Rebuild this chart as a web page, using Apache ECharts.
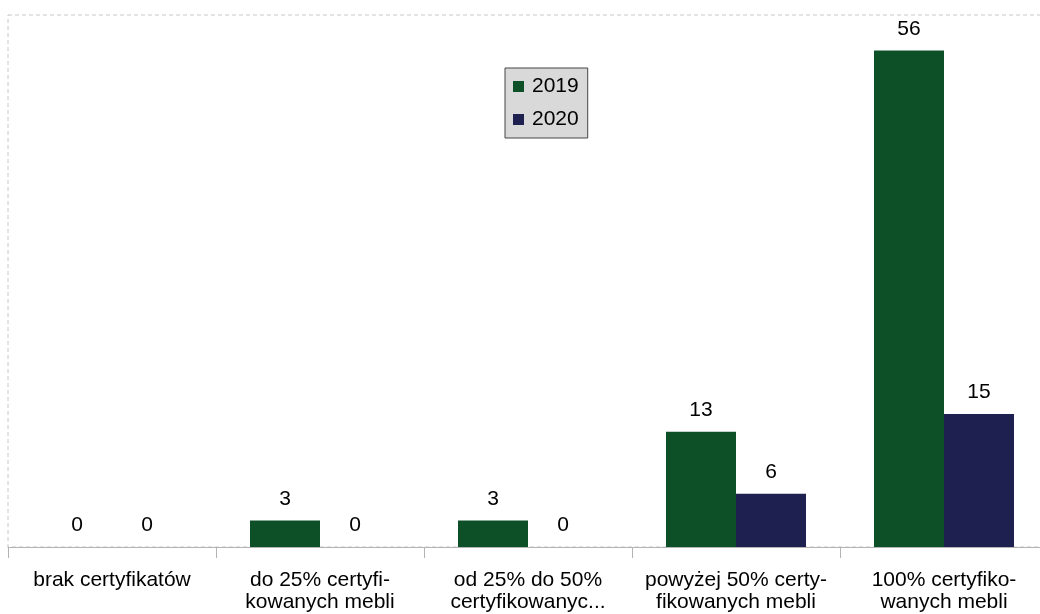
<!DOCTYPE html>
<html>
<head>
<meta charset="utf-8">
<script src="https://cdn.jsdelivr.net/npm/echarts@6/dist/echarts.min.js"></script>
<style>
    html, body { margin: 0; padding: 0; background: #fff; }
    #chart { width: 1040px; height: 614px; }
</style>
</head>
<body>
<div id="chart"></div>
<script>
// kategorie (osie X)
var categories = [
    "brak certyfikatów",
    "do 25% certyfi-\nkowanych mebli",
    "od 25% do 50%\ncertyfikowanyc...",
    "powyżej 50% certy-\nfikowanych mebli",
    "100% certyfiko-\nwanych mebli"
];
var data2019 = [0, 3, 3, 13, 56];
var data2020 = [0, 0, 0, 6, 15];

var myChart = echarts.init(document.getElementById("chart"));

var labelStyle = {
    show: true,
    position: "top",
    distance: 11,
    color: "#000",
    fontSize: 21,
    fontFamily: "Liberation Sans"
};

var option = {
    animation: false,
    textStyle: { fontFamily: "Liberation Sans" },
    grid: {
        left: 8,
        width: 1040, // prawa krawedz poza obrazkiem
        top: 15,
        bottom: 67,
        outerBoundsMode: "none",
        containLabel: false,
        show: true,
        borderColor: "#c8c8c8",
        borderWidth: 1,
        borderType: [4, 3]
    },
    legend: {
        orient: "vertical",
        left: 505,
        top: 68,
        padding: [8, 9, 8, 8],
        itemGap: 12,
        itemWidth: 11,
        itemHeight: 11,
        icon: "rect",
        backgroundColor: "#d9d9d9",
        borderColor: "#444",
        borderWidth: 1,
        borderRadius: 0,
        textStyle: { color: "#000", fontSize: 21, padding: [0, 0, 0, 3] },
        data: ["2019", "2020"]
    },
    xAxis: {
        type: "category",
        data: categories,
        axisLine: { lineStyle: { color: "#b3b3b3" } },
        axisTick: { show: true, length: 11, lineStyle: { color: "#b3b3b3" } },
        axisLabel: {
            color: "#000",
            fontSize: 21,
            lineHeight: 22,
            margin: 22,
            interval: 0
        },
        splitLine: { show: false }
    },
    yAxis: {
        type: "value",
        min: 0,
        max: 60,
        show: false,
        splitLine: { show: false }
    },
    series: [
        {
            name: "2019",
            type: "bar",
            data: data2019,
            barWidth: 70,
            barGap: 0,
            itemStyle: { color: "#0d5028" },
            label: labelStyle
        },
        {
            name: "2020",
            type: "bar",
            data: data2020,
            barWidth: 70,
            itemStyle: { color: "#1e2050" },
            label: labelStyle
        }
    ]
};

myChart.setOption(option);
</script>
</body>
</html>
